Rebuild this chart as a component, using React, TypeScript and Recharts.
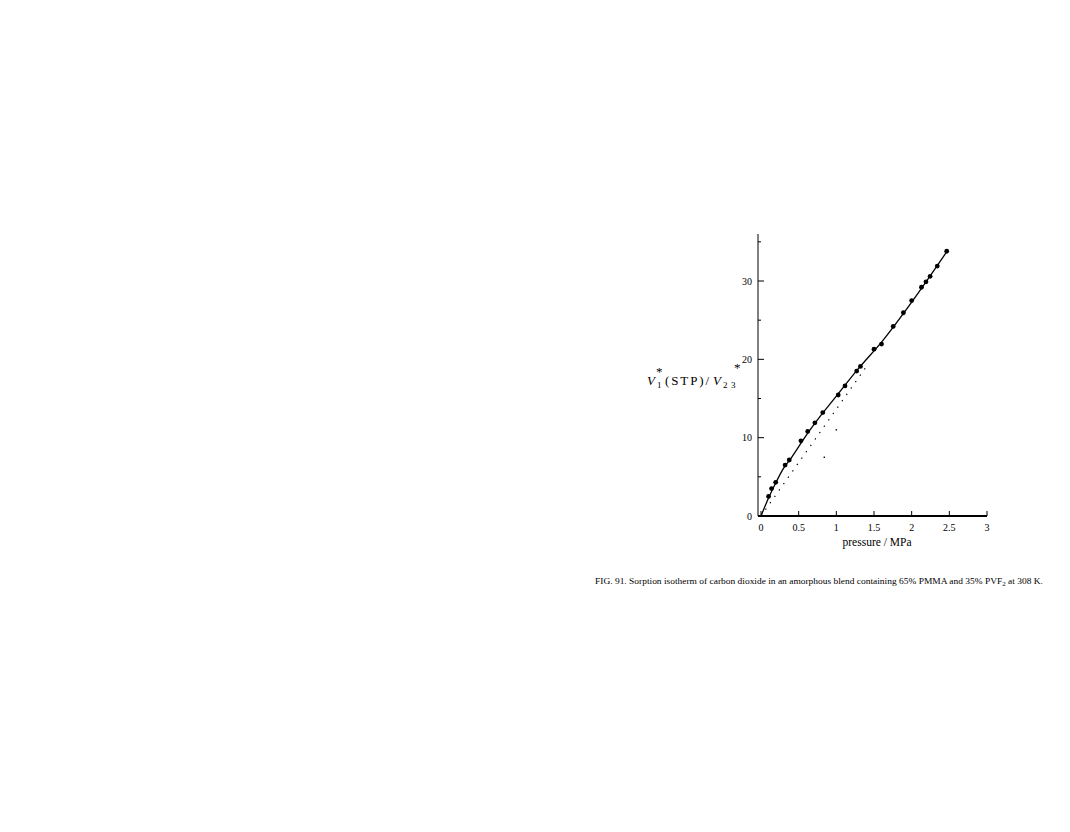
import { ComposedChart, Line, Scatter, XAxis, YAxis } from "recharts";

// measured sorption points (pressure MPa, V1*(STP)/V23*)
const pressure = [0.1, 0.14, 0.195, 0.32, 0.375, 0.53, 0.62, 0.715, 0.82, 1.025, 1.115, 1.27, 1.32, 1.5, 1.6, 1.755, 1.89, 2.0, 2.13, 2.19, 2.245, 2.34, 2.465];
const uptake = [2.5, 3.5, 4.3, 6.5, 7.15, 9.6, 10.8, 11.9, 13.2, 15.45, 16.6, 18.5, 19.1, 21.3, 21.95, 24.2, 25.95, 27.5, 29.2, 29.9, 30.6, 31.9, 33.8];

// fitted curve (solid)
const fitP = [0, 0.1, 0.2, 0.3, 0.4, 0.6, 0.8, 1.0, 1.3, 1.6, 2.0, 2.47];
const fitV = [0, 2.3, 4.3, 6.1, 7.4, 10.3, 12.9, 15.3, 18.9, 22.2, 27.3, 33.8];

// dotted component line
const dotP = [0, 1.43];
const dotV = [0, 19.5];

// sparse dots of the second dotted line
const sparseP = [0.84, 1.0];
const sparseV = [7.5, 11.0];

const xTicks = [0, 0.5, 1, 1.5, 2, 2.5, 3];
const yTicks = [0, 5, 10, 15, 20, 25, 30, 35];

const points = pressure.map((p, i) => ({ p, v: uptake[i] }));
const fit = fitP.map((p, i) => ({ p, v: fitV[i] }));
const dotted = dotP.map((p, i) => ({ p, v: dotV[i] }));
const sparse = sparseP.map((p, i) => ({ p, v: sparseV[i] }));

const serif = "'Liberation Serif', 'DejaVu Serif', serif";

function XTick(props: any) {
  const { x, y, payload } = props;
  return (
    <g>
      <line x1={x} x2={x} y1={y} y2={y - 5} stroke="#000" strokeWidth={1} />
      <text x={x} y={y + 15} textAnchor="middle" fontSize={10} fontFamily={serif} fill="#000">
        {payload.value}
      </text>
    </g>
  );
}

function YTick(props: any) {
  const { x, y, payload } = props;
  const major = payload.value % 10 === 0;
  return (
    <g>
      <line x1={x} x2={x + (major ? 6 : 3)} y1={y} y2={y} stroke="#000" strokeWidth={1} />
      {major && (
        <text x={x - 6} y={y + 3.5} textAnchor="end" fontSize={10} fontFamily={serif} fill="#000">
          {payload.value}
        </text>
      )}
    </g>
  );
}

function Dot(props: any) {
  const { cx, cy } = props;
  return <circle cx={cx} cy={cy} r={2.4} fill="#000" />;
}

function Speck(props: any) {
  const { cx, cy } = props;
  return <rect x={cx - 0.7} y={cy - 0.7} width={1.4} height={1.4} fill="#000" />;
}

export default function App() {
  return (
    <div style={{ position: "absolute", left: 0, top: 0, width: 1070, height: 832, background: "#fff" }}>
      <ComposedChart
        width={1070}
        height={832}
        margin={{ top: 234, right: 83, bottom: 286, left: 728 }}
      >
        <XAxis
          type="number"
          dataKey="p"
          domain={[-0.04, 3]}
          ticks={xTicks}
          tick={<XTick />}
          tickLine={false}
          tickSize={0}
          tickMargin={0}
          height={30}
          axisLine={{ stroke: "#000", strokeWidth: 2 }}
          allowDataOverflow
        />
        <YAxis
          type="number"
          dataKey="v"
          domain={[0, 36]}
          ticks={yTicks}
          tick={<YTick />}
          tickLine={false}
          tickSize={0}
          tickMargin={0}
          width={30}
          axisLine={{ stroke: "#000", strokeWidth: 1 }}
          allowDataOverflow
        />
        <Line
          data={dotted}
          dataKey="v"
          type="linear"
          stroke="#000"
          strokeWidth={1.2}
          strokeDasharray="1.3 6.5"
          dot={false}
          isAnimationActive={false}
        />
        <Line
          data={fit}
          dataKey="v"
          type="monotone"
          stroke="#000"
          strokeWidth={1.3}
          dot={false}
          isAnimationActive={false}
        />
        <Scatter data={sparse} dataKey="v" shape={<Speck />} isAnimationActive={false} />
        <Scatter data={points} dataKey="v" shape={<Dot />} isAnimationActive={false} />
      </ComposedChart>
      <svg width={1070} height={832} style={{ position: "absolute", left: 0, top: 0, pointerEvents: "none" }}>
        <g fontFamily={serif} fill="#000">
          <text x={647} y={385} fontSize={13} fontStyle="italic">V</text>
          <text x={657} y={388} fontSize={9}>1</text>
          <text x={656} y={376} fontSize={13}>*</text>
          <text x={665} y={385} fontSize={13} letterSpacing={1.9}>(STP)/</text>
          <text x={713} y={385} fontSize={13} fontStyle="italic">V</text>
          <text x={723} y={388} fontSize={9}>2</text>
          <text x={731} y={388} fontSize={9}>3</text>
          <text x={734} y={372} fontSize={13}>*</text>
        </g>
        <text x={877} y={546} textAnchor="middle" fontFamily={serif} fontSize={11.5} fill="#000">
          pressure / MPa
        </text>
        <text x={595} y={584} fontFamily={serif} fontSize={7.5} fill="#000" textLength={448} lengthAdjust="spacingAndGlyphs">
          FIG. 91. Sorption isotherm of carbon dioxide in an amorphous blend containing 65% PMMA and 35% PVF
          <tspan fontSize={5.5} dy={2}>2</tspan>
          <tspan dy={-2}> at 308 K.</tspan>
        </text>
      </svg>
    </div>
  );
}
